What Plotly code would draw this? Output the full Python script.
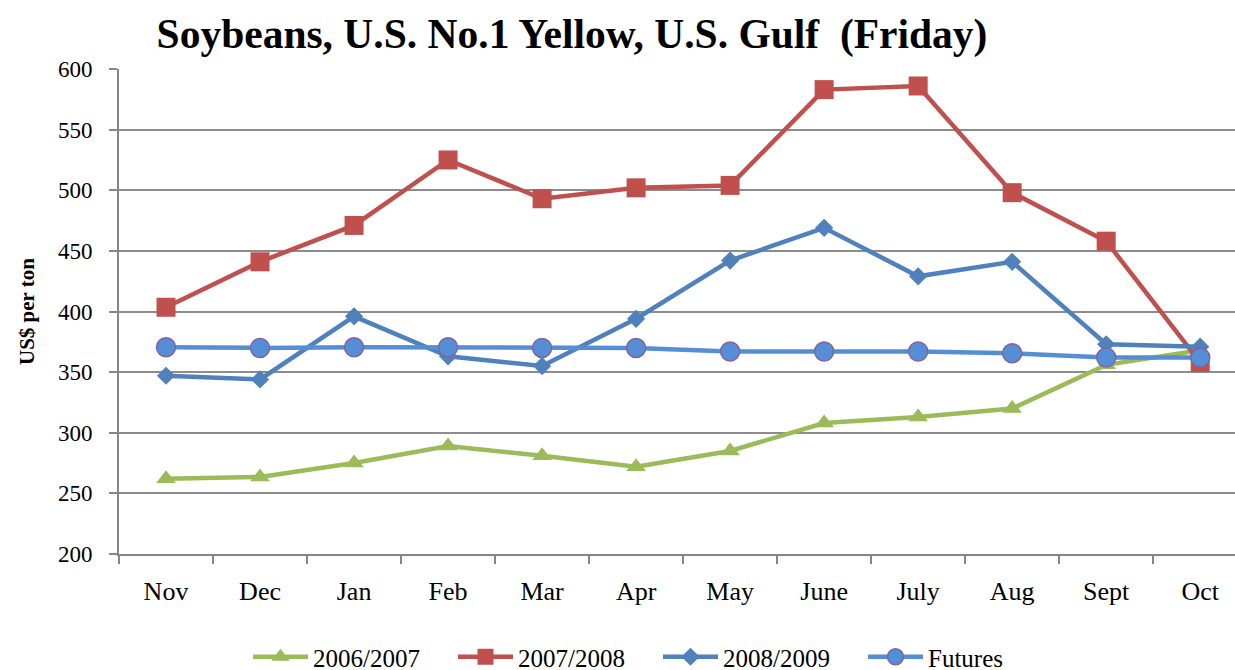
import plotly.graph_objects as go

months = ["Nov", "Dec", "Jan", "Feb", "Mar", "Apr", "May", "June", "July", "Aug", "Sept", "Oct"]
s2006_2007 = [262, 263.5, 275, 289, 281, 272, 285, 308, 313, 320, 356, 368]
s2007_2008 = [403.5, 441, 471, 525, 493, 502, 504, 583, 586, 498, 458, 358]
s2008_2009 = [347, 344, 396, 363, 355, 394, 442, 469, 429, 441, 373, 371]
futures = [370.5, 370, 370.5, 370.5, 370, 370, 367, 367, 367, 365.5, 362, 362]

FONT = "Liberation Serif"

fig = go.Figure()
fig.add_trace(go.Scatter(x=months, y=s2006_2007, name="2006/2007", mode="lines+markers",
                         line=dict(color="#9BBB59", width=4.5),
                         marker=dict(symbol="triangle-up", size=17, color="#9BBB59")))
fig.add_trace(go.Scatter(x=months, y=s2007_2008, name="2007/2008", mode="lines+markers",
                         line=dict(color="#C0504D", width=4.5),
                         marker=dict(symbol="square", size=19, color="#C0504D")))
fig.add_trace(go.Scatter(x=months, y=s2008_2009, name="2008/2009", mode="lines+markers",
                         line=dict(color="#4F81BD", width=4.5),
                         marker=dict(symbol="diamond", size=14, color="#4F81BD")))
fig.add_trace(go.Scatter(x=months, y=futures, name="Futures", mode="lines+markers",
                         line=dict(color="#558ED5", width=4.5),
                         marker=dict(symbol="circle", size=19, color="#558ED5",
                                     line=dict(color="#8064A2", width=1.5))))

fig.update_layout(
    width=1235, height=670,
    margin=dict(l=119, r=0, t=69, b=116, autoexpand=False),
    paper_bgcolor="white", plot_bgcolor="white",
    font=dict(family=FONT, size=22, color="black"),
    title=dict(text="<b>Soybeans, U.S. No.1 Yellow, U.S. Gulf  (Friday)</b>",
               font=dict(family=FONT, size=41.5, color="black"),
               x=572 / 1235, xanchor="center", xref="container",
               y=1 - 33 / 670, yanchor="middle", yref="container"),
    showlegend=True,
    legend=dict(orientation="h", x=(253 - 119 - 5) / 1116, xanchor="left",
                y=(554 - 657) / 485, yanchor="middle",
                font=dict(family=FONT, size=25), itemwidth=55, entrywidth=135,
                entrywidthmode="pixels", tracegroupgap=0,
                bgcolor="rgba(0,0,0,0)"),
    xaxis=dict(type="category", range=[-0.5, 11.37], showgrid=False,
               showline=True, linecolor="#868686", linewidth=2,
               ticks="outside", ticklen=8, tickcolor="#868686", tickwidth=2,
               tickson="boundaries", ticklabelstandoff=13,
               tickfont=dict(family=FONT, size=26), zeroline=False, automargin=False),
    yaxis=dict(range=[200, 600], dtick=50, showgrid=True, gridcolor="#8C8C8C", gridwidth=2,
               showline=True, linecolor="#868686", linewidth=2,
               ticks="outside", ticklen=8, tickcolor="#868686", tickwidth=2,
               ticklabelstandoff=12,
               tickfont=dict(family=FONT, size=23), zeroline=False, automargin=False,
               title=dict(text="<b>US$ per ton</b>", font=dict(family=FONT, size=21), standoff=18)),
)

fig.write_html("out.html", config={"displayModeBar": False},
               post_script="document.body.style.margin='0';")
